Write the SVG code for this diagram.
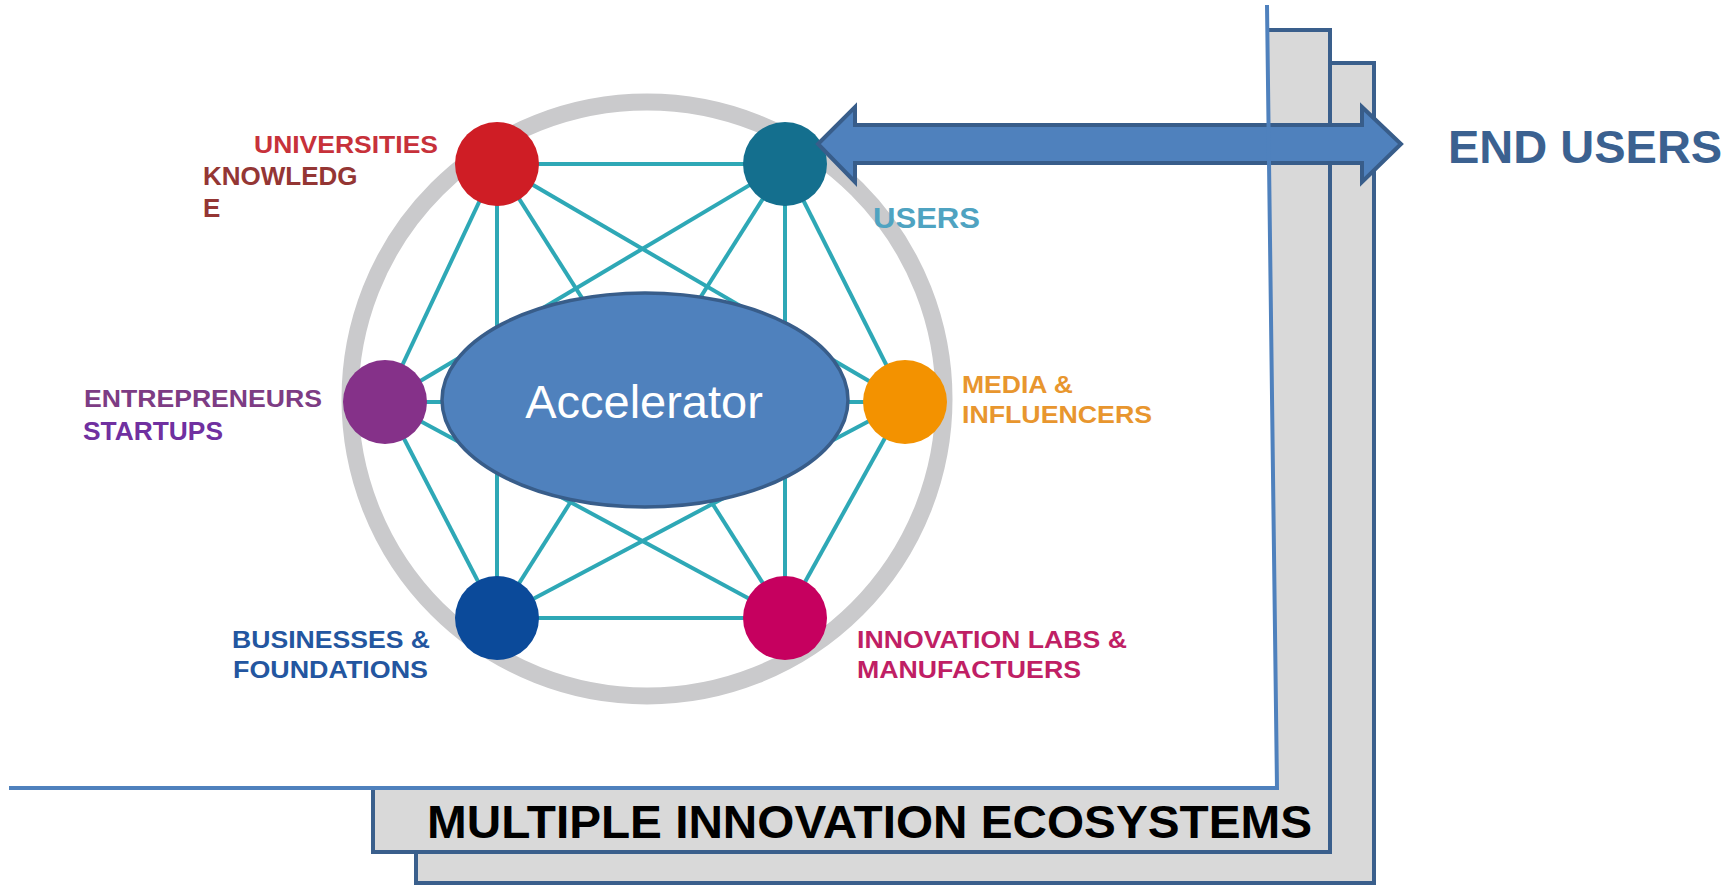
<svg xmlns="http://www.w3.org/2000/svg" width="1729" height="886" viewBox="0 0 1729 886">
<style>
.lbl{font-family:"Liberation Sans",Arial,sans-serif;font-weight:bold}
.edge{stroke:#2EA8B6;stroke-width:4;fill:none}
.box{fill:#D9D9D9;stroke:#3A5F8C;stroke-width:4}
.node{stroke:none}
</style>
<rect x="0" y="0" width="1729" height="886" fill="#FFFFFF"/>
<g id="ecosystems">
<rect class="box" x="416" y="63" width="958" height="820"/>
<rect class="box" x="373" y="30" width="957" height="822"/>
<polygon points="0,0 1267,0 1277,788 0,788" fill="#FFFFFF"/>
<text class="lbl" x="427" y="838" font-size="47" fill="#000000" textLength="885" lengthAdjust="spacingAndGlyphs">MULTIPLE INNOVATION ECOSYSTEMS</text>
</g>
<circle id="ring" cx="647" cy="399" r="297" fill="none" stroke="#CACACC" stroke-width="17"/>
<g id="connectors">
<line class="edge" x1="497" y1="164" x2="785" y2="164"/>
<line class="edge" x1="497" y1="164" x2="385" y2="402"/>
<line class="edge" x1="497" y1="164" x2="905" y2="402"/>
<line class="edge" x1="497" y1="164" x2="497" y2="618"/>
<line class="edge" x1="497" y1="164" x2="785" y2="618"/>
<line class="edge" x1="785" y1="164" x2="385" y2="402"/>
<line class="edge" x1="785" y1="164" x2="905" y2="402"/>
<line class="edge" x1="785" y1="164" x2="497" y2="618"/>
<line class="edge" x1="785" y1="164" x2="785" y2="618"/>
<line class="edge" x1="385" y1="402" x2="905" y2="402"/>
<line class="edge" x1="385" y1="402" x2="497" y2="618"/>
<line class="edge" x1="385" y1="402" x2="785" y2="618"/>
<line class="edge" x1="905" y1="402" x2="497" y2="618"/>
<line class="edge" x1="905" y1="402" x2="785" y2="618"/>
<line class="edge" x1="497" y1="618" x2="785" y2="618"/>
</g>
<g id="universities">
<circle class="node" cx="497" cy="164" r="42" fill="#CF1D25"/>
<text class="lbl" x="254" y="153" font-size="24" fill="#C7313A" textLength="184" lengthAdjust="spacingAndGlyphs">UNIVERSITIES</text>
<text class="lbl" x="203" y="185" font-size="26" fill="#943634">KNOWLEDG</text>
<text class="lbl" x="203" y="217" font-size="26" fill="#943634">E</text>
</g>
<g id="users">
<circle class="node" cx="785" cy="164" r="42" fill="#146F8E"/>
<text class="lbl" x="873" y="228" font-size="30" fill="#4FA3C1" textLength="107" lengthAdjust="spacingAndGlyphs">USERS</text>
</g>
<g id="entrepreneurs">
<circle class="node" cx="385" cy="402" r="42" fill="#853189"/>
<text class="lbl" x="84" y="407" font-size="24" fill="#7D3C84" textLength="238" lengthAdjust="spacingAndGlyphs">ENTREPRENEURS</text>
<text class="lbl" x="83" y="440" font-size="26" fill="#7030A0" textLength="140" lengthAdjust="spacingAndGlyphs">STARTUPS</text>
</g>
<g id="media">
<circle class="node" cx="905" cy="402" r="42" fill="#F39200"/>
<text class="lbl" x="962" y="393" font-size="23" fill="#E8962E" textLength="111" lengthAdjust="spacingAndGlyphs">MEDIA &amp;</text>
<text class="lbl" x="962" y="423" font-size="23" fill="#E8962E" textLength="190" lengthAdjust="spacingAndGlyphs">INFLUENCERS</text>
</g>
<g id="businesses">
<circle class="node" cx="497" cy="618" r="42" fill="#0B4A9A"/>
<text class="lbl" x="232" y="648" font-size="23" fill="#2356A0" textLength="198" lengthAdjust="spacingAndGlyphs">BUSINESSES &amp;</text>
<text class="lbl" x="233" y="678" font-size="23" fill="#2356A0" textLength="195" lengthAdjust="spacingAndGlyphs">FOUNDATIONS</text>
</g>
<g id="innovation-labs">
<circle class="node" cx="785" cy="618" r="42" fill="#C6005F"/>
<text class="lbl" x="857" y="648" font-size="23" fill="#C01F65" textLength="270" lengthAdjust="spacingAndGlyphs">INNOVATION LABS &amp;</text>
<text class="lbl" x="857" y="678" font-size="23" fill="#C01F65" textLength="224" lengthAdjust="spacingAndGlyphs">MANUFACTUERS</text>
</g>
<g id="accelerator">
<ellipse cx="645" cy="400" rx="203" ry="107" fill="#4F81BD" stroke="#385D8A" stroke-width="3.5"/>
<text x="644" y="418" font-family="'Liberation Sans',Arial,sans-serif" font-size="47" fill="#FFFFFF" text-anchor="middle">Accelerator</text>
</g>
<g id="end-users-arrow">
<polygon points="818,144 855,107 855,125 1362,125 1362,107 1401,144 1362,182 1362,163 855,163 855,182" fill="#4F81BD" stroke="#385D8A" stroke-width="4" stroke-linejoin="miter"/>
</g>
<polyline points="1267,5 1277,788 9,788" fill="none" stroke="#4F81BD" stroke-width="4"/>
<g id="end-users">
<text class="lbl" x="1448" y="163" font-size="47" fill="#3B6190">END USERS</text>
</g>
</svg>
